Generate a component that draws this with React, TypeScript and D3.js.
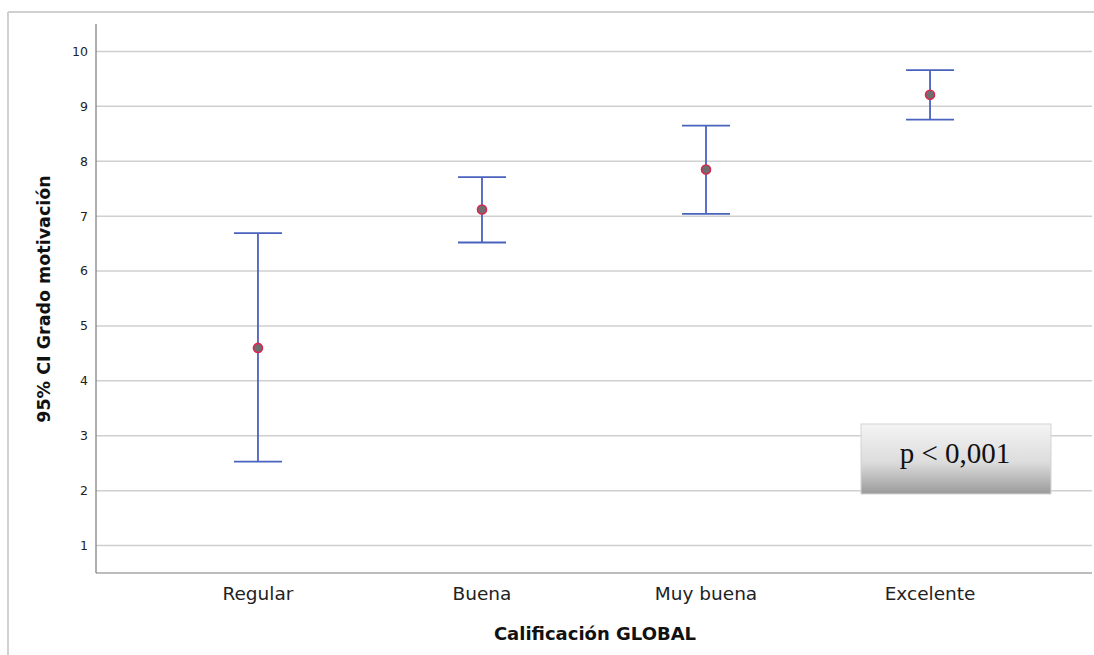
import React from "react";
import * as d3 from "d3";

const categories = ["Regular", "Buena", "Muy buena", "Excelente"];
const means = [4.6, 7.12, 7.85, 9.21];
const lowers = [2.53, 6.52, 7.04, 8.76];
const uppers = [6.69, 7.71, 8.65, 9.66];
const yTicks = [1, 2, 3, 4, 5, 6, 7, 8, 9, 10];

const width = 1094;
const height = 655;
const margin = { top: 24, right: 2, bottom: 82, left: 96 };
const font = "'DejaVu Sans', Verdana, sans-serif";

export default function App() {
  const x = d3
    .scalePoint<string>()
    .domain(categories)
    .range([margin.left, width - margin.right])
    .padding(0.723);

  const y = d3
    .scaleLinear()
    .domain([0.5, 10.5])
    .range([height - margin.bottom, margin.top]);

  const points = categories.map((c, i) => ({
    cat: c,
    mean: means[i],
    lo: lowers[i],
    hi: uppers[i],
  }));

  const capHalf = 24;

  return (
    <div style={{ position: "fixed", left: 0, top: 0 }}>
      <svg width={width} height={height} style={{ display: "block", background: "white" }}>
        {/* outer frame (only top and left edges show) */}
        <line x1={8} x2={width} y1={12} y2={12} stroke="#d0d0d0" strokeWidth={2} />
        <line x1={8} x2={8} y1={12} y2={height} stroke="#d0d0d0" strokeWidth={2} />

        {/* grid */}
        {yTicks.map((t) => (
          <line
            key={t}
            x1={margin.left}
            x2={width - margin.right}
            y1={y(t)}
            y2={y(t)}
            stroke="#cfcfcf"
            strokeWidth={1.5}
          />
        ))}

        {/* axes */}
        <line
          x1={margin.left}
          x2={margin.left}
          y1={margin.top}
          y2={height - margin.bottom}
          stroke="#7a7a7a"
          strokeWidth={1.2}
        />
        <line
          x1={margin.left}
          x2={width - margin.right}
          y1={height - margin.bottom}
          y2={height - margin.bottom}
          stroke="#7a7a7a"
          strokeWidth={1.2}
        />

        {yTicks.map((t) => (
          <text
            key={t}
            x={margin.left - 8}
            y={y(t)}
            dy=".35em"
            textAnchor="end"
            fontFamily={font}
            fontSize={12.5}
            fill="#222"
          >
            {t}
          </text>
        ))}

        {categories.map((c) => (
          <text
            key={c}
            x={x(c)}
            y={600}
            textAnchor="middle"
            fontFamily={font}
            fontSize={18.5}
            fill="#222"
          >
            {c}
          </text>
        ))}

        <text
          x={595}
          y={640}
          textAnchor="middle"
          fontFamily={font}
          fontSize={18}
          fontWeight="bold"
          fill="#111"
        >
          Calificación GLOBAL
        </text>
        <text
          transform={`translate(50,299) rotate(-90)`}
          textAnchor="middle"
          fontFamily={font}
          fontSize={17.5}
          fontWeight="bold"
          fill="#111"
        >
          95% CI Grado motivación
        </text>

        {/* error bars */}
        {points.map((d) => {
          const cx = x(d.cat) as number;
          return (
            <g key={d.cat} stroke="#4a62bd" strokeWidth={1.8}>
              <line x1={cx} x2={cx} y1={y(d.hi)} y2={y(d.lo)} />
              <line x1={cx - capHalf} x2={cx + capHalf} y1={y(d.hi)} y2={y(d.hi)} />
              <line x1={cx - capHalf} x2={cx + capHalf} y1={y(d.lo)} y2={y(d.lo)} />
              <circle cx={cx} cy={y(d.mean)} r={4.5} fill="#6e6e6e" stroke="#d9254f" strokeWidth={1.6} />
            </g>
          );
        })}

        {/* p-value box */}
        <defs>
          <linearGradient id="pbox" x1="0" x2="0" y1="0" y2="1">
            <stop offset="0%" stopColor="#f4f4f4" />
            <stop offset="55%" stopColor="#dcdcdc" />
            <stop offset="100%" stopColor="#9a9a9a" />
          </linearGradient>
        </defs>
        <rect x={861} y={424} width={190} height={70} fill="url(#pbox)" stroke="#d4d4d4" strokeWidth={1} />
        <text
          x={955}
          y={463}
          textAnchor="middle"
          fontFamily="'Liberation Serif', 'Times New Roman', serif"
          fontSize={29}
          fill="#111"
        >
          p &lt; 0,001
        </text>
      </svg>
    </div>
  );
}
